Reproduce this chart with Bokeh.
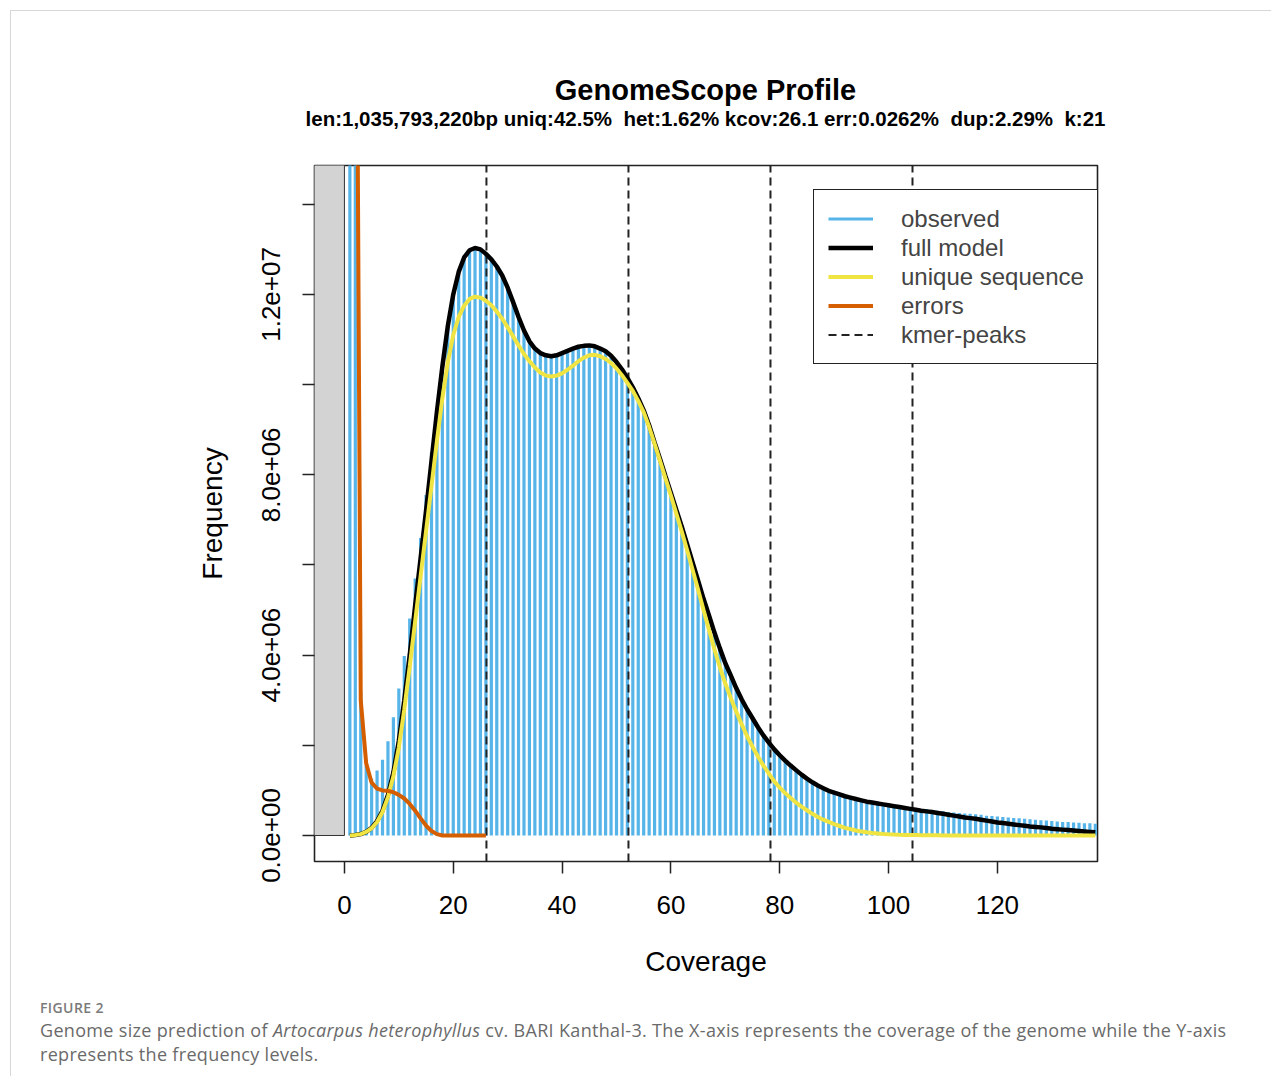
from bokeh.plotting import figure
from bokeh.models import Range1d, FixedTicker, Legend, LegendItem, Div
from bokeh.layouts import column
from bokeh.embed import file_html
from bokeh.resources import INLINE

# ---------------- data (frequencies in millions of k-mers) ----------------
coverage = list(range(1, 139))

observed_m = [
    45.0, 22.0, 3.2, 1.55, 1.26, 1.44, 1.68, 2.09, 2.62, 3.26,
    3.98, 4.81, 5.7, 6.6, 7.55, 8.5, 9.45, 10.35, 11.25, 11.95,
    12.45, 12.8, 12.95, 13.0, 12.97, 12.87, 12.75, 12.6, 12.4, 12.12,
    11.8, 11.47, 11.18, 10.94, 10.78, 10.68, 10.63, 10.61, 10.63, 10.68,
    10.73, 10.78, 10.82, 10.84, 10.85, 10.83, 10.78, 10.72, 10.62, 10.48,
    10.32, 10.13, 9.92, 9.68, 9.41, 9.08, 8.7, 8.33, 7.95, 7.58,
    7.2, 6.83, 6.43, 6.03, 5.63, 5.23, 4.86, 4.48, 4.13, 3.8,
    3.53, 3.25, 3.0, 2.78, 2.58, 2.38, 2.2, 2.04, 1.89, 1.76,
    1.64, 1.53, 1.43, 1.33, 1.25, 1.17, 1.1, 1.04, 0.99, 0.95,
    0.91, 0.87, 0.84, 0.81, 0.78, 0.76, 0.74, 0.72, 0.7, 0.68,
    0.67, 0.65, 0.63, 0.61, 0.6, 0.59, 0.58, 0.56, 0.55, 0.54,
    0.52, 0.51, 0.5, 0.49, 0.48, 0.47, 0.46, 0.44, 0.43, 0.42,
    0.41, 0.4, 0.39, 0.38, 0.37, 0.36, 0.35, 0.34, 0.33, 0.32,
    0.31, 0.3, 0.3, 0.29, 0.28, 0.27, 0.27, 0.26,
]

full_model_m = [
    0.0, 0.01, 0.03, 0.08, 0.17, 0.32, 0.55, 0.9, 1.4, 2.1,
    3.0, 4.0, 5.1, 6.15, 7.2, 8.3, 9.4, 10.4, 11.3, 12.0,
    12.5, 12.82, 12.98, 13.03, 13.0, 12.9, 12.78, 12.62, 12.42, 12.15,
    11.83, 11.5, 11.2, 10.96, 10.8, 10.7, 10.65, 10.63, 10.65, 10.7,
    10.75, 10.8, 10.84, 10.86, 10.87, 10.85, 10.8, 10.74, 10.64, 10.5,
    10.34, 10.15, 9.94, 9.7, 9.43, 9.1, 8.72, 8.35, 7.97, 7.6,
    7.22, 6.85, 6.45, 6.05, 5.65, 5.25, 4.88, 4.5, 4.15, 3.82,
    3.55, 3.27, 3.02, 2.8, 2.6, 2.4, 2.22, 2.06, 1.91, 1.78,
    1.66, 1.55, 1.45, 1.35, 1.26, 1.18, 1.11, 1.05, 0.99, 0.95,
    0.91, 0.87, 0.84, 0.81, 0.78, 0.75, 0.73, 0.71, 0.69, 0.67,
    0.65, 0.63, 0.61, 0.59, 0.57, 0.55, 0.535, 0.52, 0.5, 0.48,
    0.46, 0.44, 0.42, 0.4, 0.385, 0.37, 0.35, 0.33, 0.31, 0.29,
    0.275, 0.26, 0.245, 0.23, 0.215, 0.2, 0.19, 0.18, 0.165, 0.15,
    0.14, 0.13, 0.12, 0.11, 0.1, 0.09, 0.08, 0.07,
]

unique_m = [
    0.0, 0.01, 0.03, 0.08, 0.16, 0.3, 0.52, 0.85, 1.32, 1.95,
    2.8, 3.75, 4.75, 5.75, 6.75, 7.75, 8.75, 9.7, 10.5, 11.1,
    11.5, 11.75, 11.9, 11.95, 11.93, 11.86, 11.76, 11.62, 11.46, 11.27,
    11.07, 10.87, 10.68, 10.52, 10.38, 10.27, 10.2, 10.18, 10.2, 10.25,
    10.33, 10.42, 10.52, 10.6, 10.65, 10.66, 10.63, 10.57, 10.48, 10.36,
    10.21, 10.04, 9.86, 9.64, 9.39, 9.06, 8.69, 8.31, 7.92, 7.54,
    7.14, 6.74, 6.32, 5.89, 5.45, 5.0, 4.56, 4.13, 3.73, 3.37,
    3.05, 2.75, 2.47, 2.2, 1.97, 1.75, 1.55, 1.37, 1.2, 1.06,
    0.94, 0.83, 0.73, 0.64, 0.56, 0.48, 0.41, 0.35, 0.3, 0.25,
    0.21, 0.17, 0.14, 0.11, 0.09, 0.07, 0.055, 0.045, 0.035, 0.028,
    0.022, 0.017, 0.013, 0.01, 0.008, 0.006, 0.005, 0.004, 0.003, 0.002,
    0.0, 0.0, 0.0, 0.0, 0.0, 0.0, 0.0, 0.0, 0.0, 0.0,
    0.0, 0.0, 0.0, 0.0, 0.0, 0.0, 0.0, 0.0, 0.0, 0.0,
    0.0, 0.0, 0.0, 0.0, 0.0, 0.0, 0.0, 0.0,
]

error_coverage = list(range(1, 27))
errors_m = [
    80.0, 25.0, 3.0, 1.6, 1.17, 1.04, 1.0, 0.99, 0.96, 0.9,
    0.82, 0.7, 0.55, 0.38, 0.22, 0.1, 0.03, 0.0, 0.0, 0.0,
    0.0, 0.0, 0.0, 0.0, 0.0, 0.0,
]

kmer_peaks = [26.1, 52.2, 78.3, 104.4]

x_ticks = [0, 20, 40, 60, 80, 100, 120]
y_ticks = [0, 2e6, 4e6, 6e6, 8e6, 1e7, 1.2e7, 1.4e7]
y_tick_labels = ["0.0e+00", "", "4.0e+06", "", "8.0e+06", "", "1.2e+07", ""]

MILLION = 1e6
observed = [v * MILLION for v in observed_m]
full_model = [v * MILLION for v in full_model_m]
unique = [v * MILLION for v in unique_m]
errors = [v * MILLION for v in errors_m]

title_text = "GenomeScope Profile"
subtitle_text = ("len:1,035,793,220bp uniq:42.5%&nbsp; het:1.62% kcov:26.1 "
                 "err:0.0262%&nbsp; dup:2.29%&nbsp; k:21")

# ---------------- colours ----------------
COL_HIST = "#56B4E9"
COL_MODEL = "#000000"
COL_UNIQUE = "#F0E442"
COL_ERR = "#D55E00"
FONT = "Liberation Sans"

x_lo, x_hi = -5.5, 138.4
y_lo, y_hi = -0.577e6, 14.86e6

# ---------------- title block ----------------
title_div = Div(
    text=(
        f'<div style="box-sizing:border-box;width:1260px;padding-left:129px;'
        f'padding-top:63px;text-align:center;font-family:\'{FONT}\';color:black;">'
        f'<div style="font-size:29px;line-height:32px;font-weight:bold;">{title_text}</div>'
        f'<div style="font-size:20.5px;line-height:26px;font-weight:bold;white-space:nowrap;">'
        f'{subtitle_text}</div></div>'
    ),
    width=1260, height=135, margin=0,
)

p = figure(
    width=1260, height=852,
    x_range=Range1d(x_lo, x_hi), y_range=Range1d(y_lo, y_hi),
    output_backend="svg", toolbar_location=None,
    min_border_left=303, min_border_right=174,
    min_border_top=19, min_border_bottom=137,
)
p.background_fill_color = "white"
p.border_fill_color = "white"
p.outline_line_color = "#222222"
p.outline_line_width = 1.6
p.xgrid.visible = False
p.ygrid.visible = False

# grey excluded region
p.quad(left=[-20], right=[0], bottom=[0], top=[1e9],
       fill_color="#D3D3D3", line_color="#333333", line_width=1)

# observed histogram (R type="h")
r_obs = p.segment(x0=coverage, y0=[0] * len(coverage), x1=coverage, y1=observed,
                  line_color=COL_HIST, line_width=3.2)

# kmer peaks
r_peaks = p.segment(x0=kmer_peaks, y0=[y_lo] * len(kmer_peaks),
                    x1=kmer_peaks, y1=[y_hi] * len(kmer_peaks),
                    line_color="#222222", line_width=2, line_dash="8 5")

r_model = p.line(coverage, full_model, line_color=COL_MODEL, line_width=4.5)
r_unique = p.line(coverage, unique, line_color=COL_UNIQUE, line_width=4)
r_err = p.line(error_coverage, errors, line_color=COL_ERR, line_width=4)

# axes
for ax in (p.xaxis[0], p.yaxis[0]):
    ax.axis_line_color = None
    ax.major_tick_in = 0
    ax.major_tick_out = 12
    ax.major_tick_line_width = 1.5
    ax.major_tick_line_color = "#222222"
    ax.minor_tick_line_color = None
    ax.major_label_text_font = FONT
    ax.major_label_text_font_size = "26px"
    ax.major_label_text_color = "black"
    ax.axis_label_text_font = FONT
    ax.axis_label_text_font_size = "28px"
    ax.axis_label_text_font_style = "normal"
    ax.axis_label_text_color = "black"
    ax.major_label_standoff = 22

p.xaxis.ticker = FixedTicker(ticks=x_ticks)
p.yaxis.ticker = FixedTicker(ticks=y_ticks)
p.yaxis.major_label_overrides = {t: lab for t, lab in zip(y_ticks, y_tick_labels)}
p.yaxis.major_label_orientation = "vertical"
p.xaxis.axis_label = "Coverage"
p.yaxis.axis_label = "Frequency"
p.xaxis.axis_label_standoff = 29
p.yaxis.axis_label_standoff = 32

legend = Legend(
    items=[
        LegendItem(label="observed", renderers=[r_obs]),
        LegendItem(label="full model", renderers=[r_model]),
        LegendItem(label="unique sequence", renderers=[r_unique]),
        LegendItem(label="errors", renderers=[r_err]),
        LegendItem(label="kmer-peaks", renderers=[r_peaks]),
    ],
    location=(499, 497),
    label_text_font=FONT, label_text_font_size="24px",
    glyph_width=45, glyph_height=29, label_height=29,
    spacing=0, padding=14, margin=0, label_standoff=28,
    border_line_color="#222222", border_line_width=1.5, border_line_alpha=1.0,
    background_fill_color="white", background_fill_alpha=1.0,
)
p.add_layout(legend, "center")

caption = Div(
    text=(
        '<div style="margin-left:29px;font-family:\'Open Sans\',sans-serif;">'
        '<div style="font-size:14px;line-height:20px;font-weight:600;color:#7a7a7a;'
        'letter-spacing:0.4px;">FIGURE 2</div>'
        '<div style="font-size:18px;line-height:24px;color:#6a6a6a;letter-spacing:0.32px;'
        'white-space:nowrap;">'
        'Genome size prediction of <i>Artocarpus heterophyllus</i> cv. BARI Kanthal-3. '
        'The X-axis represents the coverage of the genome while the Y-axis<br>'
        'represents the frequency levels.</div></div>'
    ),
    width=1260, height=78, margin=0,
)

layout = column(title_div, p, caption,
                styles={"border-top": "1px solid #d6d6d6",
                        "border-left": "1px solid #d6d6d6",
                        "margin-left": "10px", "margin-top": "10px"})

open("out.html", "w").write(file_html(layout, INLINE))
